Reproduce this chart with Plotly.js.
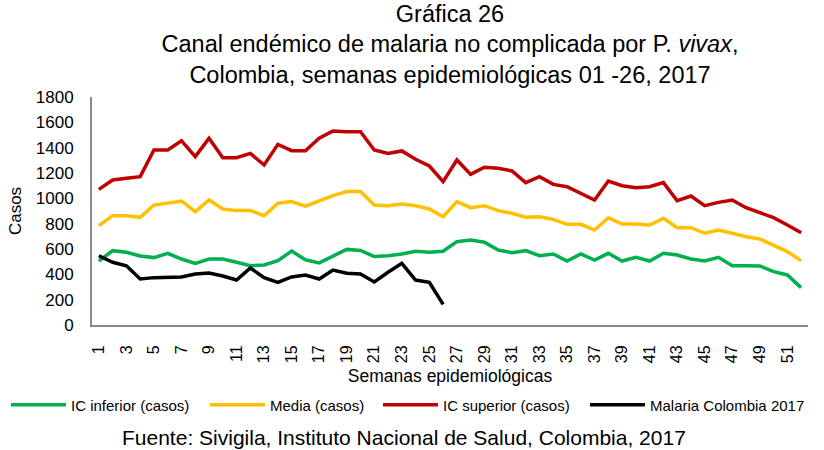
<!DOCTYPE html>
<html>
<head>
<meta charset="utf-8">
<script src="https://cdn.plot.ly/plotly-3.0.1.min.js"></script>
<style>html,body{margin:0;padding:0;background:#fff;}#chart{width:824px;height:450px;}</style>
</head>
<body>
<div id="chart"></div>
<script>
const weeks = Array.from({length: 52}, (_, i) => i + 1);
const weeksMalaria = weeks.slice(0, 26);
const tickWeeks = [1,3,5,7,9,11,13,15,17,19,21,23,25,27,29,31,33,35,37,39,41,43,45,47,49,51];

const icInferior = [505,587,574,545,532,566,521,487,521,521,495,468,474,508,584,515,490,540,597,589,540,547,561,582,574,582,658,671,653,592,571,587,547,561,505,561,513,566,505,534,505,566,553,521,505,534,468,468,466,421,395,295];
const media = [784,863,863,850,947,966,979,895,987,916,903,903,863,961,974,939,979,1021,1053,1053,947,942,955,942,916,855,974,926,942,903,882,850,855,834,795,795,750,847,797,797,789,842,768,768,724,750,724,697,679,632,579,508];
const icSuperior = [1071,1145,1158,1171,1382,1382,1455,1329,1474,1321,1321,1355,1263,1426,1376,1376,1474,1532,1526,1526,1382,1355,1374,1308,1255,1132,1303,1189,1245,1237,1216,1124,1171,1110,1092,1039,987,1137,1100,1084,1092,1124,981,1018,942,968,987,926,889,847,789,729];
const malaria2017 = [547,495,468,363,374,377,379,403,411,387,355,450,374,337,379,395,363,434,408,403,340,416,487,355,337,163];

const seriesNames = ['IC inferior (casos)', 'Media (casos)', 'IC superior (casos)', 'Malaria Colombia 2017'];

const FONT = 'Liberation Sans, Arial, sans-serif';

const traces = [
  {x: weeks, y: icInferior, name: seriesNames[0], type: 'scatter', mode: 'lines', line: {color: '#00B050', width: 3.5}, legend: 'legend'},
  {x: weeks, y: media, name: seriesNames[1], type: 'scatter', mode: 'lines', line: {color: '#FFC000', width: 3.5}, legend: 'legend2'},
  {x: weeks, y: icSuperior, name: seriesNames[2], type: 'scatter', mode: 'lines', line: {color: '#C00000', width: 3.5}, legend: 'legend3'},
  {x: weeksMalaria, y: malaria2017, name: seriesNames[3], type: 'scatter', mode: 'lines', line: {color: '#000000', width: 3.5}, legend: 'legend4'}
];

function lg(px) {
  return {x: (px - 92) / 716, xanchor: 'left', y: (325 - 405) / 228, yanchor: 'middle', orientation: 'h',
    font: {family: FONT, size: 15, color: '#000'}, bgcolor: 'rgba(0,0,0,0)', itemwidth: 55};
}

const layout = {
  width: 824, height: 450,
  margin: {l: 92, r: 16, t: 97, b: 125, autoexpand: false},
  paper_bgcolor: '#fff', plot_bgcolor: '#fff',
  title: {
    text: 'Gráfica 26<br>Canal endémico de malaria no complicada por P. <i>vivax</i>,<br>Colombia, semanas epidemiológicas 01 -26, 2017',
    font: {family: FONT, size: 23.5, color: '#000'},
    x: 0.5, xanchor: 'center', xref: 'paper', y: 0.952, yanchor: 'top'
  },
  xaxis: {
    range: [0.5, 52.5], tickvals: tickWeeks, ticktext: tickWeeks.map(String), tickangle: -90,
    showgrid: false, zeroline: false, showline: true, linecolor: '#898989', linewidth: 2,
    ticks: '', ticklabelstandoff: 12,
    tickfont: {family: FONT, size: 16, color: '#000'},
    title: {text: 'Semanas epidemiológicas', font: {family: FONT, size: 17.5, color: '#000'}, standoff: 8}
  },
  yaxis: {
    range: [0, 1800], dtick: 200, showgrid: false, zeroline: false, showline: true, linecolor: '#898989', linewidth: 2,
    ticks: '', ticklabelstandoff: 13,
    tickfont: {family: FONT, size: 17, color: '#000'},
    title: {text: 'Casos', font: {family: FONT, size: 17, color: '#000'}, standoff: 10}
  },
  showlegend: true,
  legend: lg(6), legend2: lg(205), legend3: lg(378), legend4: lg(585),
  annotations: [{
    text: 'Fuente: Sivigila, Instituto Nacional de Salud, Colombia, 2017',
    xref: 'paper', yref: 'paper', x: (404 - 92) / 716, y: (325 - 437) / 228, xanchor: 'center', yanchor: 'middle',
    showarrow: false, font: {family: FONT, size: 21, color: '#000'}
  }]
};

Plotly.newPlot('chart', traces, layout, {displayModeBar: false, staticPlot: true});
</script>
</body>
</html>
